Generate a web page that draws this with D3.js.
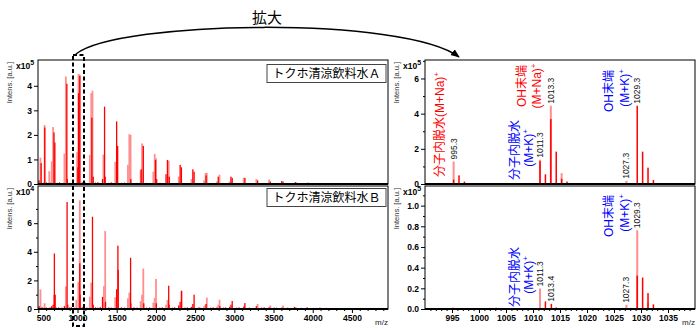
<!DOCTYPE html>
<html><head><meta charset="utf-8">
<script src="https://cdn.jsdelivr.net/npm/d3@7"></script>
<style>
body{margin:0;background:#fff}
svg{display:block}
text{font-family:"Liberation Sans",Arial,"Noto Sans CJK JP",sans-serif}
</style></head><body>
<svg id="c" width="700" height="330"></svg>
<script>
// ---------------- DATA ----------------
// m/z axes
const fullMzDomain = [496, 4960];
const zoomMzDomain = [990, 1040];
const fullTicks = [500,1000,1500,2000,2500,3000,3500,4000,4500];
const zoomTicks = [995,1000,1005,1010,1015,1020,1025,1030,1035];
const sampleNames = ["トクホ清涼飲料水Ａ", "トクホ清涼飲料水Ｂ"];

// Sample A, full range, intensity x10^5  [m/z, intensity]
const fullA_light = [[527,1.07],[580,2.4],[640,0.52],[671,0.92],[689,2.32],[833,1.24],[851,4.38],[995,1.3],[1013,4.48],[1029,4.45],
 [1157,1.18],[1175,3.7],[1191,3.8],[1330,1.2],[1481,0.9],[1643,0.78],[1661,2.03],[1677,2.0],[1805,0.55],[1823,1.65],
 [1967,0.5],[1985,1.22],[2001,1.05],[2163,0.95],[2291,0.3],[2453,0.2],[2615,0.15],[2633,0.45],[2649,0.45],[2777,0.1],
 [2811,0.38],[2940,0.1],[3119,0.25],[3281,0.2],[3443,0.18],[3767,0.06],[3929,0.05],[4091,0.03]];
const fullA_strong = [[509,0.15],[536,0.85],[582,2.3],[700,2.1],[711,1.69],[864,4.08],[870,0.2],[1005,0.68],[1013,3.7],[1029,4.4],
 [1183,2.7],[1200,0.3],[1319,0.2],[1345,3.15],[1353,0.3],[1499,2.55],[1512,1.55],[1680,0.2],[1812,0.6],[1839,1.55],
 [1995,0.98],[2010,0.2],[2129,0.4],[2147,0.98],[2170,0.3],[2309,0.78],[2325,0.68],[2471,0.6],[2487,0.5],[2640,0.35],
 [2795,0.3],[2957,0.3],[2973,0.25],[3135,0.25],[3297,0.15],[3459,0.1],[3605,0.12],[3621,0.1],[3783,0.08],[3945,0.05],[4253,0.03]];
const fullA_noise = [[560,0.05],[600,0.08],[620,0.04],[660,0.06],[740,0.05],[770,0.07],[800,0.04],[900,0.05],[940,0.06],
 [1060,0.08],[1100,0.05],[1230,0.06],[1260,0.08],[1400,0.05],[1430,0.07],[1560,0.05],[1600,0.06],[1720,0.04],[1760,0.05],
 [1880,0.05],[1920,0.04],[2050,0.05],[2080,0.04],[2210,0.04],[2370,0.04],[2540,0.03],[2700,0.03],[2860,0.03],[3030,0.03],[3190,0.02],[3350,0.02]];

// Sample B, full range, intensity x10^4
const fullB_light = [[527,1.37],[580,0.4],[700,1.0],[851,1.58],[985,0.65],[1011,1.9],[1029,7.6],[1157,0.86],[1175,1.84],
 [1337,1.6],[1353,5.45],[1481,0.82],[1643,0.75],[1661,1.15],[1805,0.55],[1823,1.0],[1839,2.83],[1967,0.45],[1985,0.78],
 [2001,2.1],[2129,0.3],[2147,0.63],[2615,0.2],[2633,0.3],[2649,0.8],[2777,0.15],[2795,0.3],[2811,0.65],[3119,0.15],
 [3297,0.35],[3459,0.25],[3621,0.24],[3783,0.12],[4253,0.07],[4577,0.05]];
const fullB_strong = [[510,0.2],[671,0.2],[689,0.3],[705,3.88],[715,1.0],[833,0.2],[867,7.48],[875,0.3],[1029,3.2],[1033,1.0],
 [1191,6.45],[1200,0.3],[1319,0.85],[1357,0.5],[1499,1.38],[1515,4.43],[1519,2.73],[1677,3.58],[1680,0.4],[1845,0.4],
 [2005,0.4],[2163,1.63],[2168,0.3],[2291,0.25],[2309,0.5],[2325,1.28],[2328,1.25],[2453,0.15],[2471,0.35],[2487,1.0],
 [2640,0.35],[2815,0.2],[2940,0.15],[2957,0.3],[2973,0.56],[3125,0.2],[3135,0.42],[3281,0.2],[3443,0.12],[3605,0.1],
 [3767,0.15],[3929,0.12],[4091,0.1],[4415,0.07],[4739,0.06]];
const fullB_noise = [[545,0.15],[560,0.1],[600,0.12],[640,0.1],[660,0.12],[730,0.1],[760,0.12],[800,0.1],[900,0.12],[920,0.15],
 [960,0.1],[1060,0.15],[1090,0.12],[1120,0.1],[1230,0.12],[1260,0.1],[1290,0.15],[1400,0.12],[1430,0.1],[1560,0.12],[1600,0.1],
 [1720,0.12],[1760,0.1],[1880,0.1],[1920,0.12],[2050,0.1],[2080,0.12],[2210,0.1],[2240,0.12],[2370,0.1],[2400,0.12],[2540,0.1],
 [2560,0.12],[2700,0.1],[2730,0.12],[2860,0.1],[2890,0.12],[3030,0.1],[3060,0.12],[3190,0.1],[3350,0.1],[3380,0.12],[3510,0.1],
 [3540,0.1],[3680,0.1],[3850,0.08],[4010,0.08],[4170,0.08],[4330,0.07],[4500,0.06],[4650,0.06],[4820,0.05]];

// Zoomed 990-1040, intensity x10^5
const zoomA_light = [[995.3,1.28],[1011.3,1.38],[1013.3,4.45],[1015.3,0.62],[1027.3,0.18]];
const zoomA_strong = [[993.2,0.05],[995.3,0.25],[996.3,0.49],[997.3,0.14],[1011.3,1.3],[1012.3,0.55],[1013.3,3.69],[1014.3,1.84],
 [1015.3,0.3],[1016.3,0.14],[1028.3,0.05],[1029.3,4.45],[1030.3,1.84],[1031.3,0.93],[1032.3,0.23],[1033.3,0.05]];
const zoomB_light = [[1011.3,0.198],[1027.3,0.04],[1029.3,0.762],[1031.3,0.06]];
const zoomB_strong = [[993.2,0.01],[994.2,0.008],[995.2,0.012],[1003.2,0.012],[1004.2,0.006],[1005.2,0.006],[1009.2,0.005],
 [1012.3,0.073],[1013.4,0.05],[1014.3,0.015],[1015.3,0.01],[1028.3,0.01],[1029.3,0.323],[1030.3,0.304],[1031.3,0.154],
 [1032.3,0.045],[1033.3,0.01]];

// Peak labels [m/z, label, intensity]
const zoomA_labels = [[995.3,"995.3",1.28],[1011.3,"1011.3",1.38],[1013.3,"1013.3",4.45],[1027.3,"1027.3",0.18],[1029.3,"1029.3",4.45]];
const zoomB_labels = [[1011.3,"1011.3",0.198],[1013.4,"1013.4",0.05],[1027.3,"1027.3",0.04],[1029.3,"1029.3",0.762]];

// y ticks
const yTicksA = [0,1,2,3,4], yTicksB = [0,2,4,6], yTicksZA = [0,2,4,6], yTicksZB = [0,0.2,0.4,0.6,0.8,1.0];
const yExp = ["5","4","5","5"];

// ---------------- DRAW ----------------
const svg = d3.select("#c");
const PINK = "#ff8f8f", RED = "#ff0000", BLUE = "#0000ff";
const CJK = "'Noto Sans CJK JP','Liberation Sans',sans-serif";
const defs = svg.append("defs");
let clipN = 0;

function panel(o){
  const x = d3.scaleLinear().domain(o.xd).range([o.x0,o.x1]);
  const y = d3.scaleLinear().domain(o.yd).range([o.y1,o.y0]);
  const id = "clip"+(clipN++);
  defs.append("clipPath").attr("id",id).append("rect")
    .attr("x",o.x0).attr("y",o.y0).attr("width",o.x1-o.x0).attr("height",o.y1-o.y0);
  const g = svg.append("g");
  const bars = g.append("g").attr("clip-path",`url(#${id})`);
  const draw = (data,col,w,cls)=>bars.selectAll("rect."+cls).data(data).join("rect").attr("class",cls)
      .attr("x",d=>x(d[0])-w/2).attr("y",d=>y(d[1])).attr("width",w)
      .attr("height",d=>y(0)-y(d[1])).attr("fill",col);
  if(o.noise) draw(o.noise,RED,1,"n");
  draw(o.light,PINK,o.bwL,"l");
  draw(o.strong,RED,o.bwS,"s");
  g.append("rect").attr("x",o.x0).attr("y",o.y0).attr("width",o.x1-o.x0).attr("height",o.y1-o.y0)
    .attr("fill","none").attr("stroke","#000").attr("stroke-width",1);
  g.append("line").attr("x1",o.x0).attr("x2",o.x1).attr("y1",o.y1).attr("y2",o.y1)
    .attr("stroke","#000").attr("stroke-width",1.8);
  // y axis
  const ya = g.append("g").attr("transform",`translate(${o.x0},0)`)
    .call(d3.axisLeft(y).tickValues(o.yt).tickSize(4).tickPadding(2).tickFormat(o.fmt));
  ya.select(".domain").remove();
  if(o.ymin){
    const ym = g.append("g").attr("transform",`translate(${o.x0},0)`)
      .call(d3.axisLeft(y).tickValues(o.ymin).tickSize(2).tickFormat(""));
    ym.select(".domain").remove();
  }
  ya.selectAll("text").attr("font-size",8.5).attr("font-weight","bold").attr("font-family","'Liberation Sans',Arial,sans-serif");
  // x axis
  if(o.xt){
    const xa = g.append("g").attr("transform",`translate(0,${o.y1})`)
      .call(d3.axisBottom(x).tickValues(o.xt).tickSize(4).tickPadding(2).tickFormat(d3.format("d")));
    xa.select(".domain").remove();
    xa.selectAll("text").attr("font-size",8.5).attr("font-weight","bold").attr("font-family","'Liberation Sans',Arial,sans-serif");
    if(o.xmin){
      const xm = g.append("g").attr("transform",`translate(0,${o.y1})`)
        .call(d3.axisBottom(x).tickValues(o.xmin).tickSize(2).tickFormat(""));
      xm.select(".domain").remove();
    }
    if(o.shiftFirst) xa.selectAll(".tick text").filter((d,i)=>i===0).attr("text-anchor","start").attr("dx",-2);
    g.append("text").attr("x",o.x1).attr("y",o.y1+16).attr("text-anchor","end")
      .attr("font-size",8).attr("fill","#222").text("m/z");
  }
  // exponent label
  const ex = g.append("text").attr("x",o.x0-22).attr("y",o.y0+9).attr("font-size",8.5).attr("font-weight","bold");
  ex.append("tspan").text("x10");
  ex.append("tspan").attr("dy",-4).attr("font-size",7).text(o.exp);
  // y label
  g.append("text").attr("transform",`translate(${o.x0-29},${o.y0+2}) rotate(-90)`).attr("text-anchor","end")
    .attr("dy","0.35em").attr("font-size",7.5).attr("fill","#333").text("Intens. [a.u.]");
  return {x,y,g};
}

const L={x0:38,x1:388}, R={x0:425,x1:695}, T={y0:60,y1:184}, B={y0:186,y1:309};
const fullMinor = d3.range(500,4901,100).filter(v=>v%500!==0);
const zoomMinor = d3.range(991,1040,1).filter(v=>v%5!==0);

const pA = panel({...L,...T,xd:fullMzDomain,yd:[0,5.05],light:fullA_light,strong:fullA_strong,noise:fullA_noise,
  bwL:1.8,bwS:1.3,yt:yTicksA,fmt:d3.format("d"),exp:yExp[0]});
const pB = panel({...L,...B,xd:fullMzDomain,yd:[0,8.6],light:fullB_light,strong:fullB_strong,noise:fullB_noise,
  bwL:1.8,bwS:1.3,yt:yTicksB,ymin:[1,3,5,7],fmt:d3.format("d"),exp:yExp[1],xt:fullTicks,xmin:fullMinor,shiftFirst:true});
const pZA = panel({...R,...T,xd:zoomMzDomain,yd:[0,7.05],light:zoomA_light,strong:zoomA_strong,
  bwL:2,bwS:1.5,yt:yTicksZA,ymin:[1,3,5,7],fmt:d3.format("d"),exp:yExp[2]});
const pZB = panel({...R,...B,xd:zoomMzDomain,yd:[0,1.19],light:zoomB_light,strong:zoomB_strong,
  bwL:2,bwS:1.5,yt:yTicksZB,ymin:[0.1,0.3,0.5,0.7,0.9,1.1],fmt:d3.format(".1f"),exp:yExp[3],xt:zoomTicks,xmin:zoomMinor});

// peak labels
function peakLabels(p,labels){
  p.g.selectAll("text.pl").data(labels).join("text").attr("class","pl")
    .attr("transform",d=>`translate(${p.x(d[0])},${p.y(d[2])-2}) rotate(-90)`)
    .attr("dy","0.35em").attr("font-size",8.5).attr("fill","#111").text(d=>d[1]);
}
peakLabels(pZA,zoomA_labels);
peakLabels(pZB,zoomB_labels);

// sample name boxes
[[pA,T],[pB,B]].forEach(([p,b],i)=>{
  const bx=267, by=b.y0+(i===0?4.5:2.5), bw=119, bh=18;
  p.g.append("rect").attr("x",bx).attr("y",by).attr("width",bw).attr("height",bh)
    .attr("fill","#fff").attr("stroke","#444").attr("stroke-width",1);
  p.g.append("text").attr("x",bx+bw/2).attr("y",by+bh/2).attr("dy","0.36em").attr("text-anchor","middle")
    .attr("font-family",CJK).attr("font-size",12).text(sampleNames[i]);
});

// rotated annotations
function rot(xp,yp,anchor,col,main,sup){
  const t = svg.append("text").attr("transform",`translate(${xp},${yp}) rotate(-90)`)
    .attr("text-anchor",anchor).attr("dy","0.36em").attr("font-family",CJK).attr("font-size",12).attr("fill",col);
  t.append("tspan").text(main);
  if(sup){ t.append("tspan").attr("dy",-5).attr("font-size",8).text(sup); }
}
rot(440,177,"start",RED,"分子内脱水(M+Na)","+");
rot(522,86,"middle",RED,"OH末端");
rot(537,86,"middle",RED,"(M+Na)","+");
rot(515,150,"middle",BLUE,"分子内脱水");
rot(529,148,"middle",BLUE,"(M+K)","+");
rot(609,91,"middle",BLUE,"OH末端");
rot(625,88,"middle",BLUE,"(M+K)","+");
rot(515,277,"middle",BLUE,"分子内脱水");
rot(529,275,"middle",BLUE,"(M+K)","+");
rot(609,216,"middle",BLUE,"OH末端");
rot(625,213,"middle",BLUE,"(M+K)","+");

// dashed zoom box
svg.append("rect").attr("x",73).attr("y",55).attr("width",11).attr("height",271)
  .attr("fill","none").attr("stroke","#000").attr("stroke-width",2).attr("stroke-dasharray","4,2.5");

// arc arrow
defs.append("marker").attr("id","ah").attr("viewBox","0 0 10 10").attr("refX",9).attr("refY",5)
  .attr("markerWidth",6).attr("markerHeight",6).attr("orient","auto")
  .append("path").attr("d","M0,1 L10,5 L0,9 Z").attr("fill","#000");
svg.append("path").attr("d","M76,54 C120,20 405,16 459,57").attr("fill","none")
  .attr("stroke","#000").attr("stroke-width",1.5).attr("marker-end","url(#ah)");

svg.append("text").attr("x",267).attr("y",23).attr("text-anchor","middle")
  .attr("font-family",CJK).attr("font-size",15).text("拡大");
</script>
</body></html>
